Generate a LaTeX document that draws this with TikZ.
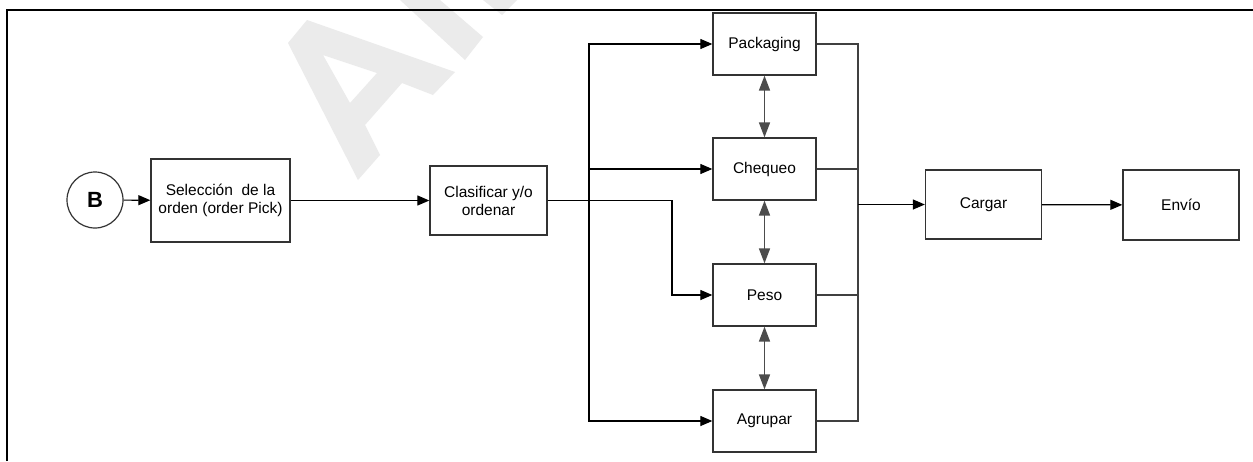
\documentclass[tikz,border=0pt]{standalone}
\usepackage{fontspec}
\setmainfont{Liberation Sans}
\usetikzlibrary{arrows.meta}

\tikzset{
  stepbox/.style={draw=black!80, line width=1.3pt, fill=white, inner sep=0pt,
    align=center, font=\fontsize{15.5}{18}\selectfont},
  arr/.style={draw=black, line width=1.2pt, -{Triangle[length=12pt,width=10pt]}},
  link/.style={draw=black!75, line width=1.2pt},
  darr/.style={draw=black!70, line width=1.6pt,
    {Triangle[length=15pt,width=11pt]}-{Triangle[length=15pt,width=11pt]}},
  mark wm/.style={fill=black!8, draw=none}
}

\begin{document}
\begin{tikzpicture}[x=1pt,y=-1pt]
  \useasboundingbox (0,0) rectangle (1253,461);
  \fill[white] (0,0) rectangle (1253,461);

  % faint background watermark
  \fill[mark wm, even odd rule]
    (288,43) -- (307,20) -- (455,72) -- (433,95) -- (402,83) -- (365,125)
    -- (380,155) -- (358,180) -- cycle
    (323,55) -- (377,73) -- (350,103) -- cycle;
  \fill[mark wm] (400,0) -- (440,0) -- (483,37) -- (465,60) -- cycle;
  \fill[mark wm] (483,0) -- (517,0) -- (502,15) -- cycle;

  % page frame
  \draw[line width=2.2pt, black] (7,461) -- (7,10) -- (1253,10);

  % start connector
  \node[draw=black!80, line width=1.2pt, circle, minimum size=56pt, inner sep=0pt,
        font=\fontsize{22}{24}\selectfont\bfseries] (B) at (95,200) {B};

  % process steps
  \node[stepbox, minimum width=139pt, minimum height=83pt] (sel) at (220.5,200.5)
    {Selección~ de la\\orden (order Pick)};
  \node[stepbox, minimum width=117pt, minimum height=69pt] (clas) at (488.5,200.5)
    {Clasificar y/o\\ordenar};
  \node[stepbox, minimum width=103pt, minimum height=62pt] (pack) at (764.5,44) {Packaging};
  \node[stepbox, minimum width=103pt, minimum height=62pt] (cheq) at (764.5,169) {Chequeo};
  \node[stepbox, minimum width=103pt, minimum height=62pt] (peso) at (764.5,295) {Peso};
  \node[stepbox, minimum width=103pt, minimum height=62pt] (agr) at (764.5,421) {Agrupar};
  \node[stepbox, minimum width=116pt, minimum height=69pt] (carg) at (983.5,204.5) {Cargar};
  \node[stepbox, minimum width=116pt, minimum height=70pt] (env) at (1181,205) {Envío};

  % routing points
  \coordinate (busL) at (589,200.5);
  \coordinate (turn) at (672,200.5);
  \coordinate (busR) at (858,204.5);

  % flow
  \draw[arr] (B) -- (sel);
  \draw[arr] (sel) -- (clas);
  \draw[arr] (clas.east) -- (busL) |- (pack.west);
  \draw[arr] (clas.east) -- (busL) |- (cheq.west);
  \draw[arr] (clas.east) -- (busL) |- (agr.west);
  \draw[arr] (clas.east) -- (turn) |- (peso.west);

  % links between stations
  \draw[darr] (pack.south) -- (cheq.north);
  \draw[darr] (cheq.south) -- (peso.north);
  \draw[darr] (peso.south) -- (agr.north);

  % gathering to loading
  \draw[link] (pack.east) -| (busR);
  \draw[link] (cheq.east) -| (busR);
  \draw[link] (peso.east) -| (busR);
  \draw[link] (agr.east) -| (busR);
  \draw[arr] (busR) -- (carg.west);
  \draw[arr] (carg) -- (env);
\end{tikzpicture}
\end{document}
